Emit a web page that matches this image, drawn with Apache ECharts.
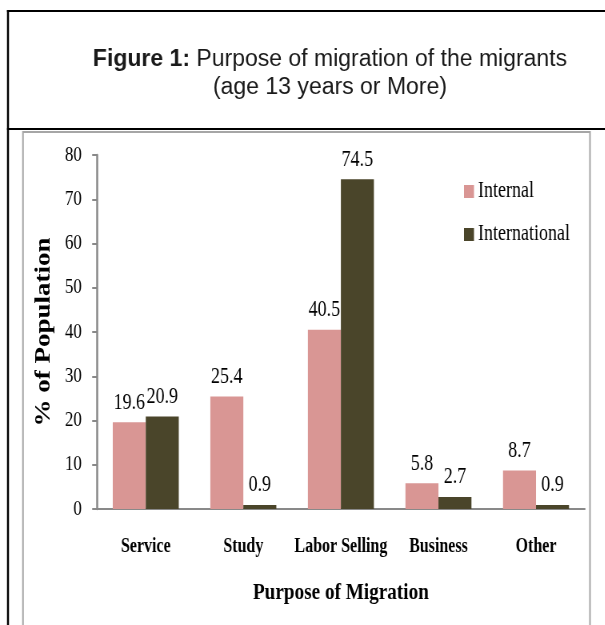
<!DOCTYPE html>
<html>
<head>
<meta charset="utf-8">
<script src="https://cdn.jsdelivr.net/npm/echarts@6/dist/echarts.min.js"></script>
<style>
  html, body { margin: 0; padding: 0; background: #fff; overflow: hidden; }
  #wrap { width: 605px; height: 625px; overflow: hidden; position: relative; }
  /* the original figure is squeezed sideways, so draw wider and squeeze it back */
  #chart { width: 756.25px; height: 625px; transform: scaleX(0.8); transform-origin: 0 0; }
</style>
</head>
<body>
<div id="wrap"><div id="chart"></div></div>
<script>
const categories = ["Service", "Study", "Labor Selling", "Business", "Other"];
const internalValues = [19.6, 25.4, 40.5, 5.8, 8.7];
const internationalValues = [20.9, 0.9, 74.5, 2.7, 0.9];
const seriesNames = ["Internal", "International"];

const K = 1.25; // horizontal stretch, undone by the css scaleX
const serif = "'Liberation Serif', 'Times New Roman', serif";
const sans = "'Liberation Sans', Arial, sans-serif";

const chart = echarts.init(document.getElementById("chart"));

function barSeries(name, data, color) {
  return {
    name: name,
    type: "bar",
    data: data,
    barWidth: 33 * K,
    barGap: "0%",
    itemStyle: { color: color },
    label: {
      show: true,
      position: "top",
      distance: 8,
      color: "#000",
      fontFamily: serif,
      fontSize: 22.5
    }
  };
}

chart.setOption({
  backgroundColor: "#ffffff",
  animation: false,
  graphic: [
    // outer frame lines
    { type: "line", shape: { x1: 7 * K, y1: 11, x2: 605 * K, y2: 11 }, style: { stroke: "#000", lineWidth: 2 } },
    { type: "line", shape: { x1: 8 * K, y1: 10, x2: 8 * K, y2: 625 }, style: { stroke: "#000", lineWidth: 2.5 } },
    { type: "line", shape: { x1: 7 * K, y1: 129, x2: 605 * K, y2: 129 }, style: { stroke: "#000", lineWidth: 2 } },
    // chart area border
    {
      type: "rect",
      shape: { x: 23 * K, y: 132, width: 567 * K, height: 500 },
      style: { fill: null, stroke: "#a6a6a6", lineWidth: 2 }
    },
    // title (scaled back so it is not squeezed)
    {
      type: "text",
      x: 330 * K,
      y: 60,
      scaleX: K,
      style: {
        text: "{b|Figure 1:} Purpose of migration of the migrants",
        align: "center",
        verticalAlign: "middle",
        fill: "#1a1a1a",
        fontFamily: sans,
        fontSize: 23,
        rich: {
          b: { fontWeight: "bold", fontFamily: sans, fontSize: 23, fill: "#1a1a1a" }
        }
      }
    },
    {
      type: "text",
      x: 330 * K,
      y: 88,
      scaleX: K,
      style: {
        text: "(age 13 years or More)",
        align: "center",
        verticalAlign: "middle",
        fill: "#1a1a1a",
        fontFamily: sans,
        fontSize: 23
      }
    }
  ],
  legend: {
    orient: "vertical",
    left: 460 * K,
    top: 175,
    icon: "rect",
    itemWidth: 10 * K,
    itemHeight: 13,
    itemGap: 20,
    data: seriesNames,
    textStyle: { color: "#000", fontFamily: serif, fontSize: 22.5 }
  },
  grid: {
    left: 97 * K,
    right: 20 * K,
    top: 155,
    bottom: 116,
    containLabel: false
  },
  xAxis: {
    type: "category",
    data: categories,
    name: "Purpose of Migration",
    nameLocation: "middle",
    nameGap: 72,
    nameTextStyle: { color: "#000", fontFamily: serif, fontSize: 24, fontWeight: "bold" },
    axisLine: { lineStyle: { color: "#898989", width: 2 } },
    axisTick: { show: false },
    axisLabel: {
      margin: 28,
      interval: 0,
      color: "#000",
      fontFamily: serif,
      fontSize: 20,
      fontWeight: "bold"
    }
  },
  yAxis: {
    type: "value",
    min: 0,
    max: 80,
    interval: 10,
    name: "% of Population",
    nameLocation: "middle",
    nameGap: 53,
    nameTextStyle: { color: "#000", fontFamily: serif, fontSize: 27, fontWeight: "bold" },
    axisLine: { show: true, lineStyle: { color: "#898989", width: 2.5 } },
    axisTick: { show: true, length: 6, lineStyle: { color: "#898989", width: 2 } },
    axisLabel: { margin: 19, color: "#000", fontFamily: serif, fontSize: 21 },
    splitLine: { show: false }
  },
  series: [
    barSeries(seriesNames[0], internalValues, "#d99694"),
    barSeries(seriesNames[1], internationalValues, "#4a452a")
  ]
});
</script>
</body>
</html>
